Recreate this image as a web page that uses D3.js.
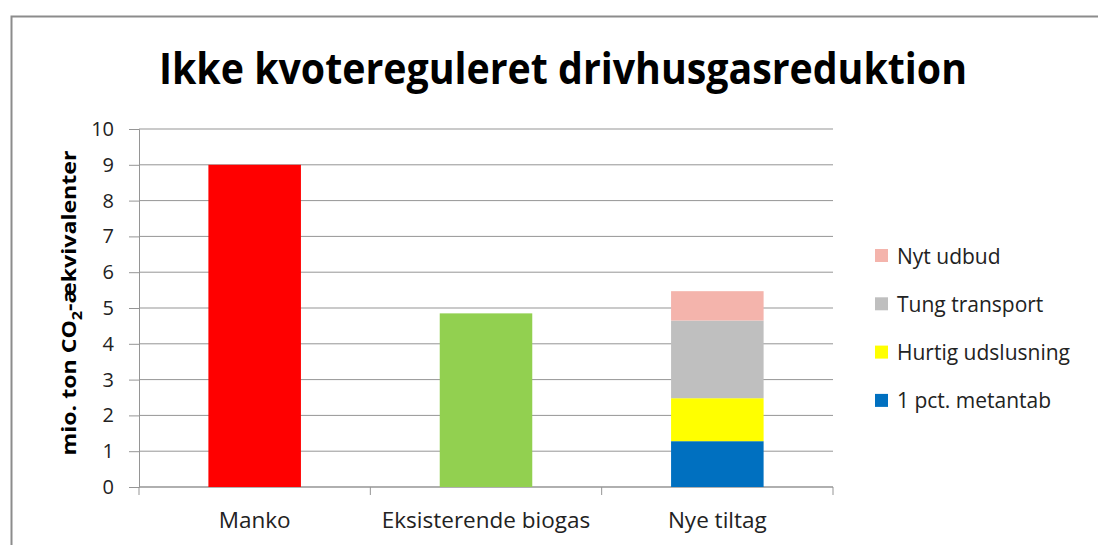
<!DOCTYPE html>
<html>
<head>
<meta charset="utf-8">
<script src="https://cdn.jsdelivr.net/npm/d3@7"></script>
<style>
  body { margin: 0; background: #fff; }
  text { font-family: "Open Sans", "Noto Sans", sans-serif; }
</style>
</head>
<body>
<svg width="1098" height="545"></svg>
<script>
const categories = ['Manko', 'Eksisterende biogas', 'Nye tiltag'];
const singleValues = [9.0, 4.85, null];
const singleColors = ['#ff0000', '#92d050', null];

const stackNames = ['1 pct. metantab', 'Hurtig udslusning', 'Tung transport', 'Nyt udbud'];
const stackValues = [1.28, 1.2, 2.17, 0.82];
const stackColors = ['#0070c0', '#ffff00', '#bfbfbf', '#f4b4ac'];

const yTicks = [0, 1, 2, 3, 4, 5, 6, 7, 8, 9, 10];

const svg = d3.select('svg');

// outer chart frame
svg.append('rect')
  .attr('x', 11.5).attr('y', 16.5)
  .attr('width', 1100).attr('height', 540)
  .attr('fill', '#fff')
  .attr('stroke', '#8c8c8c')
  .attr('stroke-width', 2);

const plotLeft = 139, plotRight = 833, plotTop = 129, plotBottom = 487;

const yScale = d3.scaleLinear().domain([0, 10]).range([plotBottom, plotTop]);
const xScale = d3.scaleBand().domain(categories).range([plotLeft, plotRight]).paddingInner(0.6).paddingOuter(0.3);
const xBand = d3.scaleBand().domain(categories).range([plotLeft, plotRight]);

// gridlines
svg.append('g')
  .selectAll('line')
  .data(yTicks)
  .enter().append('line')
  .attr('x1', plotLeft).attr('x2', plotRight)
  .attr('y1', d => yScale(d)).attr('y2', d => yScale(d))
  .attr('stroke', '#959595').attr('stroke-width', 1);

// y axis
const yAxis = svg.append('g')
  .attr('transform', `translate(${plotLeft},0)`)
  .call(d3.axisLeft(yScale).tickValues(yTicks).tickSize(10).tickPadding(15));
yAxis.select('.domain').attr('stroke', '#959595');
yAxis.selectAll('line').attr('stroke', '#959595');
yAxis.selectAll('text')
  .attr('fill', '#222')
  .style('font-size', '20px')
  .style('font-family', '"Open Sans", sans-serif');

// x axis line and ticks between categories
svg.append('line')
  .attr('x1', plotLeft).attr('x2', plotRight)
  .attr('y1', plotBottom).attr('y2', plotBottom)
  .attr('stroke', '#959595');
const bounds = categories.map(c => xBand(c)).concat([plotRight]);
svg.append('g').selectAll('line')
  .data(bounds)
  .enter().append('line')
  .attr('x1', d => d).attr('x2', d => d)
  .attr('y1', plotBottom).attr('y2', plotBottom + 8)
  .attr('stroke', '#959595');

svg.append('g').selectAll('text')
  .data(categories)
  .enter().append('text')
  .attr('x', d => xBand(d) + xBand.bandwidth() / 2)
  .attr('y', 528)
  .attr('text-anchor', 'middle')
  .attr('fill', '#222')
  .style('font-size', '22.5px')
  .text(d => d);

// simple bars
svg.append('g').selectAll('rect')
  .data(categories.map((c, i) => ({ c, v: singleValues[i], col: singleColors[i] })).filter(d => d.v != null))
  .enter().append('rect')
  .attr('x', d => xScale(d.c))
  .attr('y', d => yScale(d.v))
  .attr('width', xScale.bandwidth())
  .attr('height', d => yScale(0) - yScale(d.v))
  .attr('fill', d => d.col);

// stacked bar
let acc = 0;
const stacked = stackValues.map((v, i) => {
  const d = { y0: acc, y1: acc + v, col: stackColors[i] };
  acc += v;
  return d;
});
svg.append('g').selectAll('rect')
  .data(stacked)
  .enter().append('rect')
  .attr('x', xScale('Nye tiltag'))
  .attr('y', d => yScale(d.y1))
  .attr('width', xScale.bandwidth())
  .attr('height', d => yScale(d.y0) - yScale(d.y1))
  .attr('fill', d => d.col);

// legend, top series first
const legendItems = stackNames.map((n, i) => ({ n, col: stackColors[i] })).reverse();
const lg = svg.append('g').selectAll('g')
  .data(legendItems)
  .enter().append('g')
  .attr('transform', (d, i) => `translate(875, ${256 + i * 48.3})`);
lg.append('rect')
  .attr('x', 0).attr('y', -7)
  .attr('width', 13).attr('height', 13)
  .attr('fill', d => d.col);
lg.append('text')
  .attr('x', 22).attr('y', 7.5)
  .attr('fill', '#222')
  .style('font-size', '21px')
  .text(d => d.n);

// title
svg.append('text')
  .attr('x', 563).attr('y', 84)
  .attr('text-anchor', 'middle')
  .attr('textLength', 808)
  .attr('lengthAdjust', 'spacingAndGlyphs')
  .style('font-size', '43px')
  .style('font-weight', 'bold')
  .attr('fill', '#000')
  .text('Ikke kvotereguleret drivhusgasreduktion');

// y axis label
const yl = svg.append('text')
  .attr('transform', 'translate(76,303) rotate(-90)')
  .attr('text-anchor', 'middle')
  .attr('textLength', 305)
  .attr('lengthAdjust', 'spacingAndGlyphs')
  .style('font-size', '20px')
  .style('font-weight', 'bold')
  .attr('fill', '#000');
yl.append('tspan').text('mio. ton CO');
yl.append('tspan').attr('dy', 6).style('font-size', '14px').text('2');
yl.append('tspan').attr('dy', -6).text('-ækvivalenter');
</script>
</body>
</html>
